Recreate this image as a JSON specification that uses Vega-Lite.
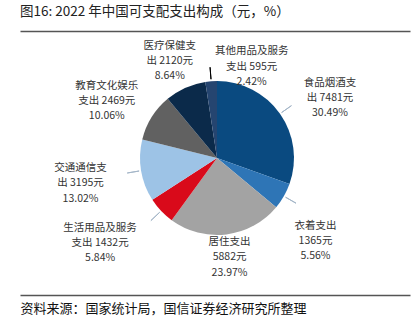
{
  "$schema": "https://vega.github.io/schema/vega-lite/v6.json",
  "width": 390,
  "height": 264,
  "autosize": {"type": "none"},
  "padding": {"left": 20, "top": 31, "right": 4, "bottom": 31},
  "background": "white",
  "config": {
    "view": {"stroke": null},
    "font": "Noto Sans CJK SC",
    "text": {"font": "Noto Sans CJK SC", "fontSize": 10.5, "lineHeight": 15.2, "color": "#333333", "lineBreak": "\n"},
    "axis": {"domain": true, "ticks": false, "labels": false, "grid": false, "domainColor": "#555555", "domainWidth": 1.5}
  },
  "title": {
    "text": "图16: 2022 年中国可支配支出构成（元，%）",
    "anchor": "start",
    "fontSize": 13.5,
    "fontWeight": "normal",
    "font": "Noto Sans CJK SC",
    "color": "#222222",
    "baseline": "alphabetic",
    "offset": 0,
    "dy": 11
  },
  "data": {
    "values": [
      {"n": 1, "name": "食品烟酒", "value": 7481, "label": "食品烟酒支\n出 7481元\n30.49%"},
      {"n": 2, "name": "衣着", "value": 1365, "label": "衣着支出\n1365元\n5.56%"},
      {"n": 3, "name": "居住", "value": 5882, "label": "居住支出\n5882元\n23.97%"},
      {"n": 4, "name": "生活用品及服务", "value": 1432, "label": "生活用品及服务\n支出 1432元\n5.84%"},
      {"n": 5, "name": "交通通信", "value": 3195, "label": "交通通信支\n出 3195元\n13.02%"},
      {"n": 6, "name": "教育文化娱乐", "value": 2469, "label": "教育文化娱乐\n支出 2469元\n10.06%"},
      {"n": 7, "name": "医疗保健", "value": 2120, "label": "医疗保健支\n出 2120元\n8.64%"},
      {"n": 8, "name": "其他用品及服务", "value": 595, "label": "其他用品及服务\n支出 595元\n2.42%"}
    ]
  },
  "resolve": {"axis": {"x": "independent"}},
  "layer": [
    {
      "mark": {"type": "rule", "strokeOpacity": 0},
      "encoding": {"x": {"datum": 0, "type": "quantitative", "scale": {"domain": [0, 1]}, "axis": {"orient": "top", "title": null}}}
    },
    {
      "mark": {"type": "rule", "strokeOpacity": 0},
      "encoding": {"x": {"datum": 0, "type": "quantitative", "scale": {"domain": [0, 1]}, "axis": {"orient": "bottom", "title": "资料来源：国家统计局，国信证券经济研究所整理", "titleAnchor": "start", "titleAlign": "left", "titleFontSize": 13, "titleFontWeight": "normal", "titleColor": "#111111", "titleFont": "Noto Sans CJK SC", "titlePadding": 7}}}
    },
    {
      "mark": {"type": "arc", "radius": 77, "xOffset": 2, "yOffset": -5},
      "encoding": {
        "theta": {"field": "value", "type": "quantitative", "stack": true},
        "order": {"field": "n"},
        "color": {"field": "name", "type": "nominal", "legend": null, "scale": {
          "domain": ["食品烟酒", "衣着", "居住", "生活用品及服务", "交通通信", "教育文化娱乐", "医疗保健", "其他用品及服务"],
          "range": ["#0A4A80", "#2E75B6", "#A3A3A3", "#D90A1A", "#9DC3E6", "#616161", "#0B2A4A", "#254570"]}}
      }
    },
    {
      "mark": {"type": "arc", "radius": 91, "radius2": 79, "padAngle": 3, "fillOpacity": 0, "strokeWidth": 1, "xOffset": 2, "yOffset": -5},
      "encoding": {
        "theta": {"field": "value", "type": "quantitative", "stack": true},
        "order": {"field": "n"},
        "stroke": {"condition": [{"test": "datum.n === 8", "value": "#000000"}, {"test": "datum.n === 1 || datum.n === 2 || datum.n === 4 || datum.n === 5", "value": "#A4B6C8"}], "value": "transparent"}
      }
    },
    {"mark": {"type": "text", "radius": 110, "dx": 23, "dy": -12, "xOffset": 2, "yOffset": -5},
     "encoding": {"theta": {"field": "value", "type": "quantitative", "stack": true}, "order": {"field": "n"}, "text": {"condition": {"test": "datum.n === 1", "field": "label"}, "value": ""}}},
    {"mark": {"type": "text", "radius": 110, "dx": 3, "dy": 13, "xOffset": 2, "yOffset": -5},
     "encoding": {"theta": {"field": "value", "type": "quantitative", "stack": true}, "order": {"field": "n"}, "text": {"condition": {"test": "datum.n === 2", "field": "label"}, "value": ""}}},
    {"mark": {"type": "text", "radius": 110, "dx": -1, "dy": -25, "xOffset": 2, "yOffset": -5},
     "encoding": {"theta": {"field": "value", "type": "quantitative", "stack": true}, "order": {"field": "n"}, "text": {"condition": {"test": "datum.n === 3", "field": "label"}, "value": ""}}},
    {"mark": {"type": "text", "radius": 110, "dx": -37, "dy": -6, "xOffset": 2, "yOffset": -5},
     "encoding": {"theta": {"field": "value", "type": "quantitative", "stack": true}, "order": {"field": "n"}, "text": {"condition": {"test": "datum.n === 4", "field": "label"}, "value": ""}}},
    {"mark": {"type": "text", "radius": 110, "dx": -28, "dy": -8, "xOffset": 2, "yOffset": -5},
     "encoding": {"theta": {"field": "value", "type": "quantitative", "stack": true}, "order": {"field": "n"}, "text": {"condition": {"test": "datum.n === 5", "field": "label"}, "value": ""}}},
    {"mark": {"type": "text", "radius": 110, "dx": -17, "dy": -14, "xOffset": 2, "yOffset": -5},
     "encoding": {"theta": {"field": "value", "type": "quantitative", "stack": true}, "order": {"field": "n"}, "text": {"condition": {"test": "datum.n === 6", "field": "label"}, "value": ""}}},
    {"mark": {"type": "text", "radius": 110, "dx": -2, "dy": -12, "xOffset": 2, "yOffset": -5},
     "encoding": {"theta": {"field": "value", "type": "quantitative", "stack": true}, "order": {"field": "n"}, "text": {"condition": {"test": "datum.n === 7", "field": "label"}, "value": ""}}},
    {"mark": {"type": "text", "radius": 110, "dx": 43, "dy": 3, "xOffset": 2, "yOffset": -5},
     "encoding": {"theta": {"field": "value", "type": "quantitative", "stack": true}, "order": {"field": "n"}, "text": {"condition": {"test": "datum.n === 8", "field": "label"}, "value": ""}}}
  ]
}
